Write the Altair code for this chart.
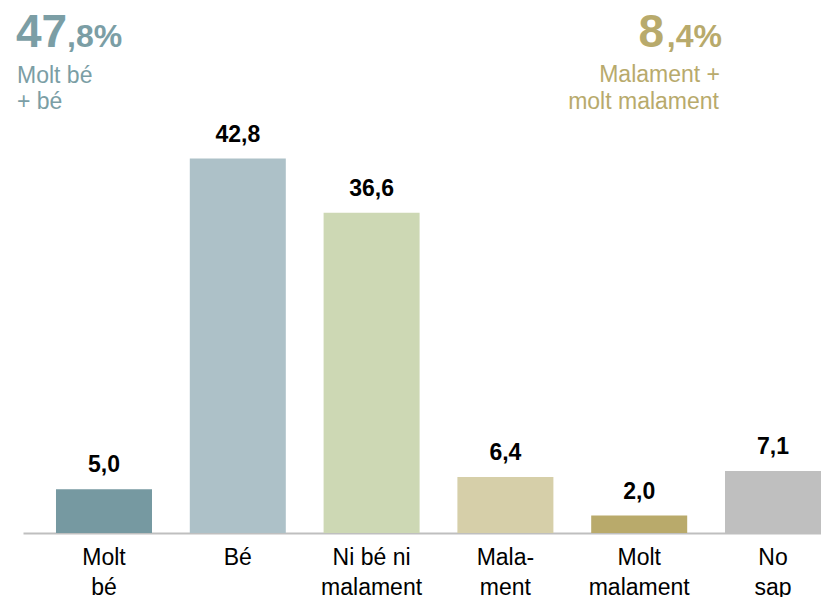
import altair as alt
import pandas as pd

categories = ["Molt|bé", "Bé", "Ni bé ni|malament", "Mala-|ment", "Molt|malament", "No|sap"]
values = [5.0, 42.8, 36.6, 6.4, 2.0, 7.1]
value_labels = ["5,0", "42,8", "36,6", "6,4", "2,0", "7,1"]
colors = ["#7699a1", "#adc1c8", "#cdd8b4", "#d6cfa9", "#b9aa6b", "#bfbfbf"]

good_big, good_small, good_lines = "47", ",8%", ["Molt bé", "+ bé"]
bad_big, bad_small, bad_lines = "8", ",4%", ["Malament +", "molt malament"]
good_color = "#7b9ea5"
bad_color = "#b8aa6c"

FONT = "Liberation Sans"

df = pd.DataFrame({"cat": categories, "value": values, "label": value_labels, "color": colors})

x = alt.X("cat:N", sort=categories, title=None,
          scale=alt.Scale(paddingInner=0.2825, paddingOuter=0.1233, align=1.0),
          axis=alt.Axis(labelAngle=0, labelExpr="split(datum.label, '|')", labelFontSize=23,
                        labelFont=FONT, labelColor="#000000", labelLineHeight=30,
                        labelPadding=13, ticks=False, domainColor="#bfbfbf", domainWidth=2,
                        labelBaseline="top"))
y = alt.Y("value:Q", scale=alt.Scale(domain=[0, 60]), axis=None)

bars = alt.Chart(df).mark_bar().encode(x=x, y=y, color=alt.Color("color:N", scale=None))
texts = alt.Chart(df).mark_text(font=FONT, fontSize=23, fontWeight="bold", dy=-17,
                                baseline="alphabetic", color="#000000").encode(
    x=alt.X("cat:N", sort=categories), y="value:Q", text="label:N")


def txt(s, xpos, ypos, size, weight, color, align):
    return alt.Chart(pd.DataFrame({"t": [s]})).mark_text(
        font=FONT, fontSize=size, fontWeight=weight, color=color, align=align,
        baseline="alphabetic").encode(x=alt.value(xpos), y=alt.value(ypos), text="t:N")


annots = [
    txt(good_big, -7, 39, 46, "bold", good_color, "left"),
    txt(good_small, 44, 39, 32, "bold", good_color, "left"),
    txt(good_lines[0], -6, 75, 23, "normal", good_color, "left"),
    txt(good_lines[1], -6, 101, 23, "normal", good_color, "left"),
    txt(bad_big, 641, 39, 46, "bold", bad_color, "right"),
    txt(bad_small, 699, 39, 32, "bold", bad_color, "right"),
    txt(bad_lines[0], 697, 74, 23, "normal", bad_color, "right"),
    txt(bad_lines[1], 696, 101, 23, "normal", bad_color, "right"),
]

chart = alt.layer(bars, texts, *annots).properties(
    width=798, height=525,
    autosize=alt.AutoSizeParams(type="none"),
    padding={"left": 15, "top": 0, "right": 0, "bottom": 64},
).configure_view(stroke=None)

chart.save("out.html", embed_options={"renderer": "svg", "actions": False})
